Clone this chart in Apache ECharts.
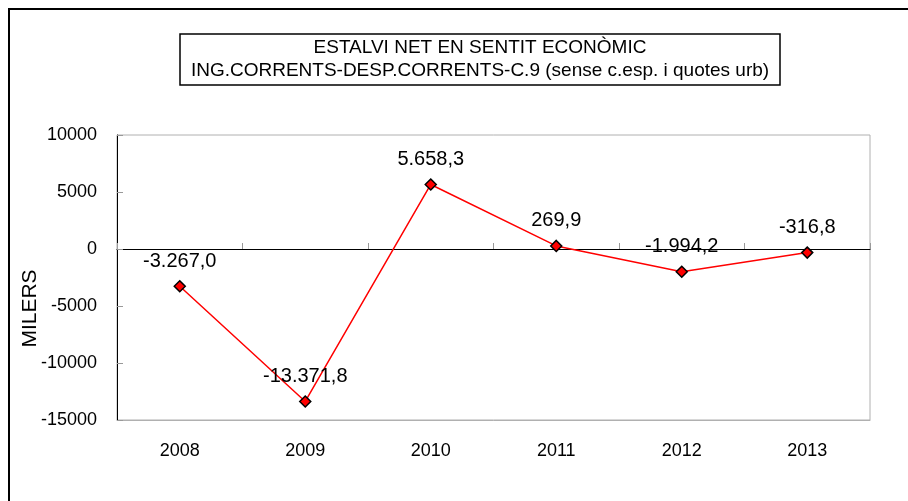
<!DOCTYPE html>
<html>
<head>
<meta charset="utf-8">
<script src="https://cdn.jsdelivr.net/npm/echarts@6/dist/echarts.min.js"></script>
<style>
  html, body { margin: 0; padding: 0; background: #fff; }
  #chart { width: 908px; height: 501px; }
</style>
</head>
<body>
<div id="chart"></div>
<script>
const years = ['2008', '2009', '2010', '2011', '2012', '2013'];
const estalvi = [-3267.0, -13371.8, 5658.3, 269.9, -1994.2, -316.8];
const yTicks = { min: -15000, max: 10000, interval: 5000 };

// 1234.5 -> "1.234,5"
function fmt(v) {
    const neg = v < 0;
    const parts = Math.abs(v).toFixed(1).split('.');
    const ent = parts[0].replace(/\B(?=(\d{3})+(?!\d))/g, '.');
    return (neg ? '-' : '') + ent + ',' + parts[1];
}

const chart = echarts.init(document.getElementById('chart'));
const font = 'Liberation Sans, Arial, sans-serif';

chart.setOption({
    backgroundColor: '#fff',
    animation: false,
    textStyle: { fontFamily: font },
    title: {
        text: 'ESTALVI NET EN SENTIT ECONÒMIC\nING.CORRENTS-DESP.CORRENTS-C.9 (sense c.esp. i quotes urb)',
        left: 480,
        top: 36,
        textAlign: 'center',
        padding: 0,
        textStyle: { fontSize: 19, fontWeight: 'normal', color: '#000', lineHeight: 23, fontFamily: font }
    },
    graphic: [
        { type: 'rect', shape: { x: 9, y: 9, width: 920, height: 520 },
          style: { fill: 'none', stroke: '#000', lineWidth: 2 }, z: 100 },
        { type: 'rect', shape: { x: 180, y: 34, width: 600, height: 51 },
          style: { fill: 'none', stroke: '#000', lineWidth: 1.5 }, z: 100 }
    ],
    grid: {
        left: 117, right: 38, top: 135, bottom: 81,
        show: true, borderColor: '#b0b0b0', borderWidth: 1
    },
    xAxis: [
        {
            type: 'category', data: years, position: 'bottom',
            axisLine: { onZero: false, lineStyle: { color: '#b0b0b0' } },
            axisTick: { show: false },
            axisLabel: { fontSize: 18, color: '#000', margin: 22 }
        },
        {
            type: 'category', data: years, position: 'bottom',
            axisLine: { onZero: true, lineStyle: { color: '#000', width: 1.2 } },
            axisTick: { show: true, inside: true, length: 6, lineStyle: { color: '#999' } },
            axisLabel: { show: false }
        }
    ],
    yAxis: {
        type: 'value', min: yTicks.min, max: yTicks.max, interval: yTicks.interval,
        name: 'MILERS', nameLocation: 'middle', nameGap: 76, nameRotate: 90,
        nameMoveOverlap: false,
        nameTextStyle: { fontSize: 21, color: '#000', padding: [0, 0, 0, -62] },
        axisLine: { show: true, lineStyle: { color: '#000', width: 1 } },
        axisTick: { show: true, inside: true, length: 6, lineStyle: { color: '#999' } },
        axisLabel: { fontSize: 18, color: '#000', margin: 20, formatter: v => String(v) },
        splitLine: { show: false }
    },
    series: [{
        type: 'line',
        data: estalvi,
        xAxisIndex: 0,
        symbol: 'diamond',
        symbolSize: 11,
        itemStyle: { color: '#ff0000', borderColor: '#000', borderWidth: 1.5 },
        lineStyle: { color: '#ff0000', width: 1.5 },
        label: {
            show: true, position: 'top', distance: 9,
            fontSize: 20, color: '#000',
            formatter: p => fmt(p.value)
        },
        z: 5
    }]
});
</script>
</body>
</html>
